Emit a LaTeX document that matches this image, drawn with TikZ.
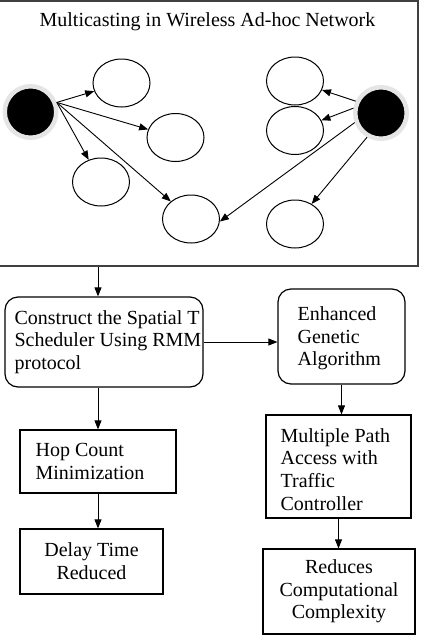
\documentclass[tikz,border=0pt]{standalone}
\usepackage{fontspec}
\setmainfont{Liberation Serif}
\usetikzlibrary{shapes.geometric,arrows.meta,positioning}
\tikzstyle{sourceNode} = [
 circle,
 fill=black,
 draw=gray!20,
 line width=4.5pt,
 minimum size=51.5pt
]
\tikzstyle{memberNode} = [
 ellipse,
 draw,
 line width=1pt,
 minimum width=57pt,
 minimum height=48pt
]
\tikzstyle{stageBox} = [
 rectangle,
 draw,
 line width=1.2pt,
 rounded corners=13pt
]
\tikzstyle{resultBox} = [
 rectangle,
 draw,
 line width=1.2pt,
 align = center,
 font=\fontsize{20}{22.7}\selectfont
]
\tikzstyle{boxText} = [
 inner sep=0pt,
 align = left,
 font=\fontsize{20}{22.7}\selectfont
]
\tikzstyle{link} = [-{Triangle[length=9pt,width=7pt]}, line width=0.9pt]

\begin{document}
\begin{tikzpicture}[x=1pt,y=-1pt]
  \useasboundingbox (0,0) rectangle (421,635);
  % network part
  \node [draw=black!75, line width=1.8pt, minimum width=421pt, minimum height=265pt] (network) at (207.5,133.5) {};
  \node [font=\fontsize{20}{22.7}\selectfont] (title) at (207.5,22) {Multicasting in Wireless Ad-hoc Network};
  \node [sourceNode] (ls) at (30.5,112) {};
  \node [sourceNode] (rs) at (381,113) {};
  \node [memberNode] (e1) at (121.5,83) {};
  \node [memberNode] (e2) at (175.5,137.5) {};
  \node [memberNode] (e3) at (101,182) {};
  \node [memberNode] (e4) at (191,219) {};
  \node [memberNode] (e5) at (295,81) {};
  \node [memberNode] (e6) at (295,130.5) {};
  \node [memberNode] (e7) at (295,224) {};
  \foreach \m in {e1,e2,e3,e4}
    \draw [link] (ls.20) -- (\m);
  \draw [link] (rs.155) -- (e5);
  \draw [link] (rs.170) -- (e6);
  \draw [link] (rs.200) -- (e4.-5);
  \draw [link] (rs.240) -- (e7);
  % flow part
  \node [stageBox, minimum width=198pt, minimum height=90pt] (spatial) at (104,342) {};
  \node [boxText, right=10pt of spatial.west] (spatialText) {Construct the Spatial T\\Scheduler Using RMM\\protocol};
  \node [stageBox, minimum width=127pt, minimum height=95pt] (genetic) at (341.5,336.5) {};
  \node [boxText, right=20pt of genetic.west, yshift=-2pt] (geneticText) {Enhanced\\Genetic\\Algorithm};
  \node [resultBox, minimum width=156pt, minimum height=63pt] (hop) at (98,461.5) {};
  \node [boxText, right=16pt of hop.west] (hopText) {Hop Count\\Minimization};
  \node [resultBox, minimum width=143pt, minimum height=65pt] (delay) at (91.5,561.5) {Delay Time\\Reduced};
  \node [resultBox, minimum width=145pt, minimum height=103pt] (traffic) at (338.5,466.5) {};
  \node [boxText, right=15pt of traffic.west, yshift=-3pt] (trafficText) {Multiple Path\\Access with\\Traffic\\Controller};
  \node [resultBox, minimum width=152pt, minimum height=85pt] (reduce) at (339,591.5) {Reduces\\Computational\\Complexity};
  \draw [link] (network.south -| hop) -- (spatial.north -| hop);
  \draw [link] (spatial.east) -- (spatial.east -| genetic.west);
  \draw [link] (spatial.south -| hop) -- (hop.north);
  \draw [link] (hop.south) -- (hop.south |- delay.north);
  \draw [link] (genetic.south) -- (genetic.south |- traffic.north);
  \draw [link] (traffic.south) -- (traffic.south |- reduce.north);
\end{tikzpicture}
\end{document}
